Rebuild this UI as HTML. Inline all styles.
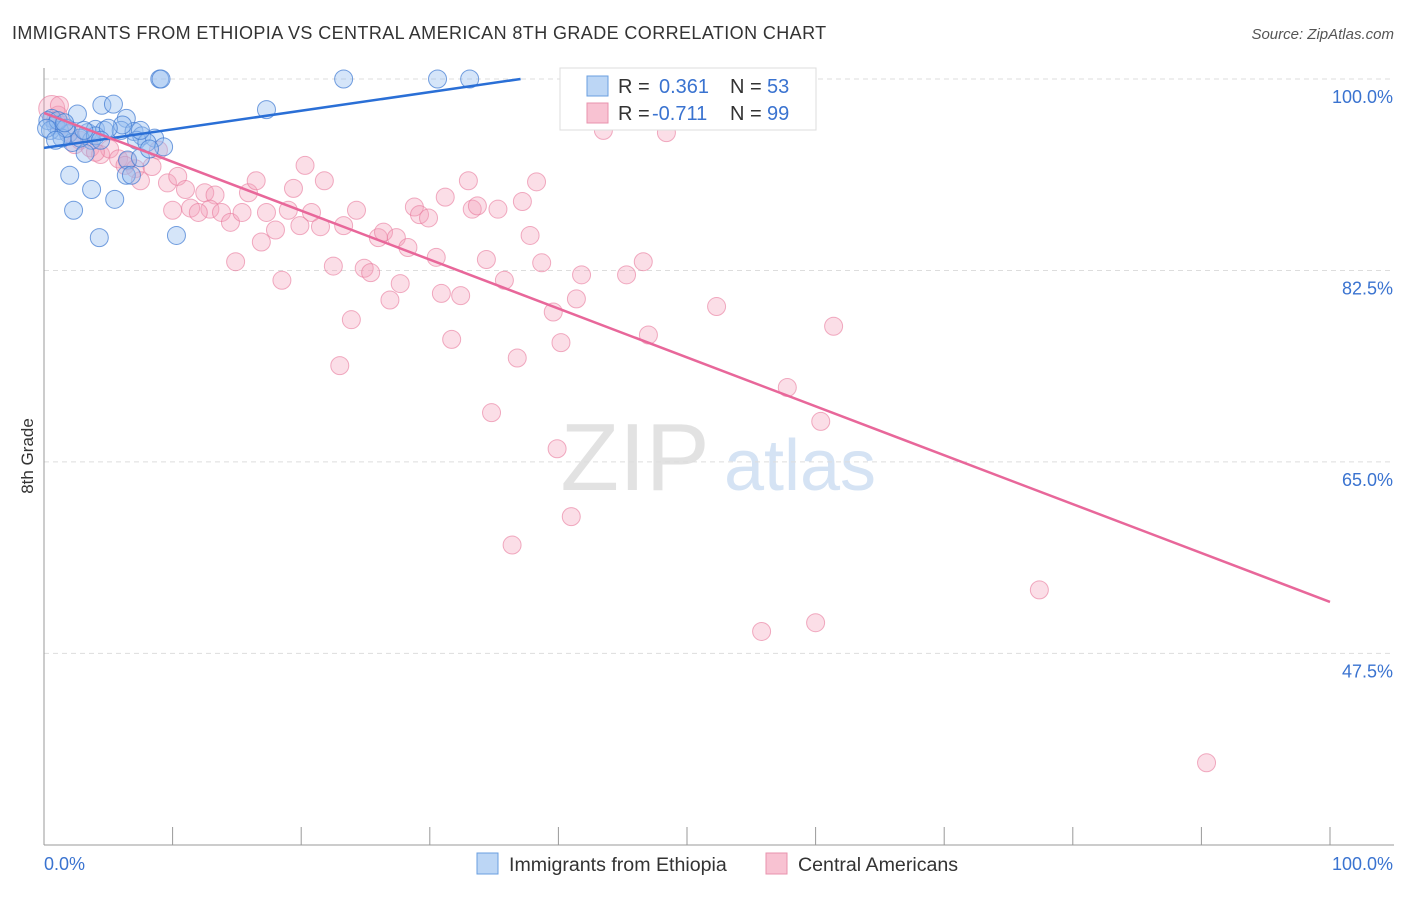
<!DOCTYPE html>
<html><head><meta charset="utf-8"><style>
body{margin:0;background:#fff;font-family:"Liberation Sans",sans-serif;}
svg text{font-family:"Liberation Sans",sans-serif;}
</style></head><body>
<svg id="chart" width="1406" height="892" xmlns="http://www.w3.org/2000/svg">
<text x="12" y="39" font-size="18" fill="#333" letter-spacing="0.4">IMMIGRANTS FROM ETHIOPIA VS CENTRAL AMERICAN 8TH GRADE CORRELATION CHART</text>
<text x="1394" y="39" font-size="15" fill="#555" font-style="italic" text-anchor="end">Source: ZipAtlas.com</text>
<text x="33" y="456" font-size="17" fill="#333" transform="rotate(-90 33 456)" text-anchor="middle">8th Grade</text>
<g><text x="635" y="490" font-size="96" fill="#e2e2e2" text-anchor="middle" font-family="Liberation Serif">ZIP</text><text x="800" y="490" font-size="72" fill="#d5e3f4" text-anchor="middle">atlas</text></g>
<g id="grid"></g><g id="marks"></g>
<g>
<rect x="560" y="68" width="256" height="62" fill="#fff" stroke="#ddd"/>
<rect x="587" y="76" width="21" height="20" fill="#bcd6f5" stroke="#6a9fe0"/>
<rect x="587" y="103" width="21" height="20" fill="#f8c2d2" stroke="#e893ae"/>
<text x="618" y="93" font-size="20" fill="#333">R = </text><text x="659" y="93" font-size="20" fill="#3a73d0">0.361</text>
<text x="730" y="93" font-size="20" fill="#333">N = </text><text x="767" y="93" font-size="20" fill="#3a73d0">53</text>
<text x="618" y="120" font-size="20" fill="#333">R = </text><text x="652" y="120" font-size="20" fill="#3a73d0">-0.711</text>
<text x="730" y="120" font-size="20" fill="#333">N = </text><text x="767" y="120" font-size="20" fill="#3a73d0">99</text>
</g>
<g>
<rect x="477" y="853" width="21" height="21" fill="#bcd6f5" stroke="#6a9fe0"/>
<text x="509" y="871" font-size="19.6" fill="#333">Immigrants from Ethiopia</text>
<rect x="766" y="853" width="21" height="21" fill="#f8c2d2" stroke="#e893ae"/>
<text x="798" y="871" font-size="19.6" fill="#333">Central Americans</text>
</g>
<text x="44" y="870" font-size="18" fill="#3a73d0">0.0%</text>
<text x="1393" y="870" font-size="18" fill="#3a73d0" text-anchor="end">100.0%</text>
</svg>
<script>
const yTicks=[100,82.5,65,47.5];
const blueX=[9,9.1,23.3,30.6,33.1,17.3,4.5,5.4,2.6,6.4,0.6,0.9,1.2,1.9,3.4,4.0,4.7,6.0,7.0,7.6,8.6,7.2,8.0,9.3,3.7,2.2,3.2,6.5,6.4,6.8,2.0,3.7,5.5,2.3,4.3,10.3,0.3,0.5,1.4,2.8,4.0,7.5,6.1,1.1,1.7,3.1,0.2,5.0,8.2,4.4,0.9,1.6,7.5];
const blueY=[100,100,100,100,100,97.2,97.6,97.7,96.8,96.4,96.4,95.8,95.3,95.0,95.1,95.4,95.3,95.3,95.2,94.8,94.6,94.4,94.2,93.8,94.4,94.2,93.2,92.6,91.2,91.2,91.2,89.9,89.0,88.0,85.5,85.7,96.2,95.3,94.6,94.6,94.8,92.8,95.8,96.2,95.5,95.3,95.5,95.5,93.6,94.4,94.4,96.0,95.3];
const pinkX=[0.6,0.9,1.4,2.0,2.8,3.6,4.4,5.1,5.8,6.5,7.1,7.5,8.4,9.6,10.4,11.0,11.4,12.5,13.3,12.9,13.8,14.5,15.4,14.9,15.9,16.5,16.9,17.3,18.0,18.5,19.0,19.4,19.9,20.3,20.8,21.5,21.8,22.5,23.0,23.3,23.9,24.3,24.9,25.4,26.0,26.4,26.9,27.4,27.7,28.3,28.8,29.2,29.9,30.5,30.9,31.2,31.7,32.4,33.0,33.3,33.7,34.4,34.8,35.3,35.8,36.4,36.8,37.2,37.8,38.3,38.7,39.6,39.9,40.2,41.0,41.4,41.8,43.5,45.3,46.6,47.0,48.4,49.1,52.3,55.8,57.8,60.0,60.4,61.4,77.4,90.4,4.0,6.3,10.0,12.0,8.9,2.4,1.1,1.2];
const pinkY=[97.3,96.2,95.8,95.1,94.4,93.7,93.1,93.6,92.7,92.5,91.8,90.7,92.0,90.5,91.1,89.9,88.2,89.6,89.4,88.1,87.8,86.9,87.8,83.3,89.6,90.7,85.1,87.8,86.2,81.6,88.0,90.0,86.6,92.1,87.8,86.5,90.7,82.9,73.8,86.6,78.0,88.0,82.7,82.3,85.5,86.0,79.8,85.5,81.3,84.6,88.3,87.6,87.3,83.7,80.4,89.2,76.2,80.2,90.7,88.1,88.4,83.5,69.5,88.1,81.6,57.4,74.5,88.8,85.7,90.6,83.2,78.7,66.2,75.9,60.0,79.9,82.1,95.3,82.1,83.3,76.6,95.1,99.9,79.2,49.5,71.8,50.3,68.7,77.4,53.3,37.5,93.3,92.1,88.0,87.8,93.5,94.0,96.7,97.6];
const blueLine=[93.7,110.7];
const pinkLine=[96.9,52.2];
const X0=44,X1=1330;
const xs=v=>X0+(X1-X0)*v/100;
const ys=v=>79+(100-v)*10.94;
const NS="http://www.w3.org/2000/svg";
function mk(t,a,p){const e=document.createElementNS(NS,t);for(const k in a)e.setAttribute(k,a[k]);p.appendChild(e);return e;}
const grid=document.getElementById('grid'),marks=document.getElementById('marks');
yTicks.forEach((t,i)=>{
 const l=mk('line',{x1:X0,x2:1394,y1:ys(t),y2:ys(t),stroke:'#ddd','stroke-dasharray':'5,4'},grid);
 
 
 const tx=mk('text',{x:1393,y:ys(t)+24,'font-size':18,fill:'#3a73d0','text-anchor':'end'},grid);
 tx.textContent=t.toFixed(1)+'%';
 
 
});
const ax=mk('line',{x1:X0,x2:X0,y1:68,y2:845,stroke:'#999'},grid);


const bx=mk('line',{x1:X0,x2:1394,y1:845,y2:845,stroke:'#999'},grid);


for(let i=0;i<=10;i++){const tk=mk('line',{x1:xs(i*10),x2:xs(i*10),y1:827,y2:845,stroke:'#999'},grid);
 
 }
pinkX.forEach((x,i)=>{const r=i===0?13:9;
 const c=mk('circle',{cx:xs(x),cy:ys(pinkY[i]),r:r,fill:'rgba(244,160,185,0.35)',stroke:'rgba(232,120,155,0.6)','stroke-width':1},marks);
 
 });
blueX.forEach((x,i)=>{
 const c=mk('circle',{cx:xs(x),cy:ys(blueY[i]),r:9,fill:'rgba(150,190,240,0.4)',stroke:'rgba(60,120,210,0.7)','stroke-width':1},marks);
 
 });
const bxEnd=(100-blueLine[0])/(blueLine[1]-blueLine[0])*100;
const bl=mk('line',{x1:xs(0),y1:ys(blueLine[0]),x2:xs(Math.min(100,bxEnd)),y2:ys(Math.min(100,blueLine[1])),stroke:'#2a6fd6','stroke-width':2.5},marks);


const pl=mk('line',{x1:xs(0),y1:ys(pinkLine[0]),x2:xs(100),y2:ys(pinkLine[1]),stroke:'#e8679a','stroke-width':2.5},marks);


</script>
</body></html>
